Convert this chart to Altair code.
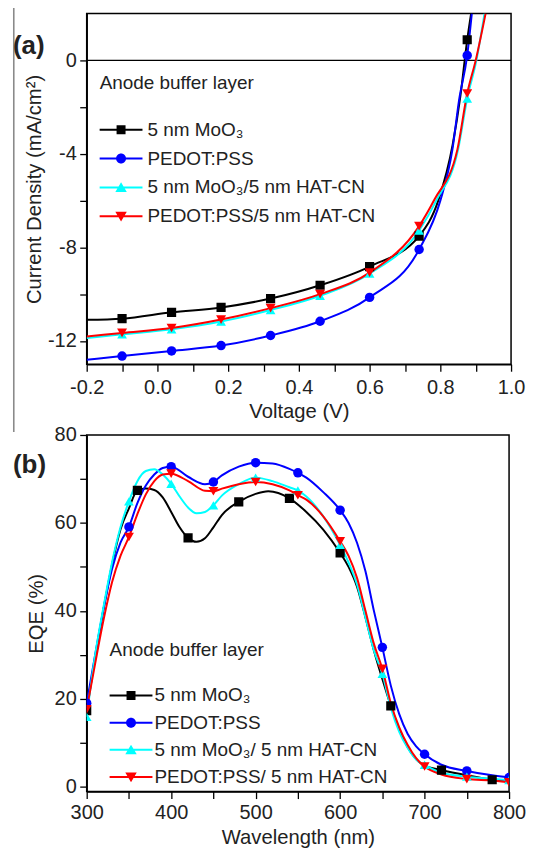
import altair as alt
import pandas as pd

FONT = "Liberation Sans"
TXT = "#222222"

colors = ["#000000", "#0000FF", "#00FFFF", "#FF0000"]
shapes = ["square", "circle", "triangle-up", "triangle-down"]
sizes = [85, 100, 130, 130]

# ---------------- Panel (a): J-V curves ----------------
jv_names = ["5 nm MoO₃", "PEDOT:PSS", "5 nm MoO₃/5 nm HAT-CN", "PEDOT:PSS/5 nm HAT-CN"]

jv_line_v = [
    [-0.2, -0.1, 0.04, 0.18, 0.32, 0.46, 0.60, 0.74, 0.795, 0.835, 0.857, 0.876, 0.887],
    [-0.2, -0.1, 0.04, 0.18, 0.32, 0.46, 0.60, 0.74, 0.80, 0.834, 0.853, 0.876, 0.889],
    [-0.2, -0.1, 0.04, 0.18, 0.32, 0.46, 0.60, 0.74, 0.79, 0.85, 0.876, 0.902, 0.925],
    [-0.2, -0.1, 0.04, 0.18, 0.32, 0.46, 0.60, 0.74, 0.783, 0.848, 0.876, 0.90, 0.928],
]
jv_line_j = [
    [-11.10, -11.05, -10.78, -10.57, -10.19, -9.62, -8.82, -7.52, -5.96, -3.6, -1.5, 0.88, 2.0],
    [-12.81, -12.65, -12.43, -12.20, -11.77, -11.16, -10.14, -8.09, -6.0, -3.83, -1.70, 0.21, 2.0],
    [-11.88, -11.72, -11.50, -11.17, -10.68, -10.07, -9.12, -7.28, -5.96, -3.83, -1.63, 0.0, 2.0],
    [-11.81, -11.66, -11.45, -11.09, -10.60, -10.00, -9.08, -7.09, -5.96, -3.83, -1.42, 0.0, 2.0],
]
jv_mark_v = [-0.1, 0.04, 0.18, 0.32, 0.46, 0.60, 0.74, 0.876]
jv_mark_j = [
    [-11.05, -10.78, -10.57, -10.19, -9.62, -8.82, -7.52, 0.88],
    [-12.65, -12.43, -12.20, -11.77, -11.16, -10.14, -8.09, 0.21],
    [-11.72, -11.50, -11.17, -10.68, -10.07, -9.12, -7.28, -1.63],
    [-11.66, -11.45, -11.09, -10.60, -10.00, -9.08, -7.09, -1.42],
]

# ---------------- Panel (b): EQE ----------------
eqe_names = ["5 nm MoO₃", "PEDOT:PSS", "5 nm MoO₃/ 5 nm HAT-CN", "PEDOT:PSS/ 5 nm HAT-CN"]

eqe_line_wl = [
    [300, 310, 320, 330, 340, 350, 360, 370, 380, 390, 400, 410, 420, 430, 440, 450, 460, 480, 500, 515,
     540, 560, 580, 600, 610, 620, 630, 640, 650, 660, 670, 680, 690, 700, 720, 750, 780, 800],
    [300, 310, 320, 330, 340, 350, 360, 370, 380, 390, 400, 420, 440, 450, 460, 480, 500, 520, 540, 550,
     560, 580, 600, 610, 620, 630, 640, 650, 660, 670, 680, 690, 700, 720, 750, 780, 800],
    [300, 310, 320, 330, 340, 350, 360, 370, 380, 390, 400, 410, 420, 430, 440, 450, 460, 480, 500, 520,
     540, 550, 560, 580, 600, 610, 620, 630, 640, 650, 660, 670, 680, 690, 700, 720, 750, 780, 800],
    [300, 310, 320, 330, 340, 350, 360, 370, 380, 390, 400, 420, 440, 450, 460, 480, 500, 520, 540, 550,
     560, 580, 600, 610, 620, 630, 640, 650, 660, 670, 680, 690, 700, 720, 750, 780, 800],
]
eqe_line_val = [
    [17.3, 29.5, 40.5, 50.5, 58.5, 63.3, 67.4, 67.8, 67.5, 65.8, 62.5, 59.0, 56.6, 55.7, 56.5, 59.0, 61.8, 64.8, 66.6, 67.2,
     65.6, 62.5, 58.5, 53.2, 50.0, 45.5, 38.5, 31.0, 24.5, 18.4, 13.0, 9.0, 6.3, 4.8, 3.8, 2.6, 1.6, 1.2],
    [19.0, 30.0, 40.5, 49.5, 55.5, 59.1, 64.5, 68.5, 71.0, 72.5, 72.8, 70.5, 68.8, 69.3, 70.8, 72.8, 73.7, 73.5, 72.3, 71.4,
     70.3, 67.0, 62.9, 60.0, 55.5, 49.0, 40.0, 31.7, 23.0, 16.5, 12.0, 9.2, 7.4, 5.0, 3.6, 2.6, 2.1],
    [15.9, 30.0, 41.0, 51.0, 59.0, 64.9, 69.5, 71.8, 72.2, 71.0, 68.9, 66.0, 63.5, 62.2, 62.5, 64.0, 66.2, 68.8, 70.3, 69.5,
     68.1, 67.4, 66.0, 61.5, 55.0, 51.0, 46.0, 38.5, 31.0, 25.7, 18.0, 12.5, 8.8, 6.2, 5.0, 3.2, 2.3, 1.8, 1.5],
    [17.6, 28.0, 38.0, 46.5, 52.5, 56.8, 62.0, 66.5, 69.5, 71.0, 71.2, 69.5, 67.3, 67.2, 67.8, 68.8, 69.3, 68.8, 67.4, 66.3,
     65.3, 61.5, 55.8, 52.5, 47.5, 40.0, 32.5, 26.8, 19.0, 13.5, 9.5, 6.5, 4.6, 2.8, 1.75, 1.4, 1.0],
]
eqe_mark_wl = [
    [300, 360, 420, 480, 540, 600, 660, 720, 780],
    [300, 350, 400, 450, 500, 550, 600, 650, 700, 750, 800],
    [300, 350, 400, 450, 500, 550, 600, 650, 700, 750, 800],
    [300, 350, 400, 450, 500, 550, 600, 650, 700, 750, 800],
]
eqe_mark_val = [
    [17.3, 67.4, 56.6, 64.8, 65.6, 53.2, 18.4, 3.8, 1.6],
    [19.0, 59.1, 72.8, 69.3, 73.7, 71.4, 62.9, 31.7, 7.4, 3.6, 2.1],
    [15.9, 64.9, 68.9, 64.0, 70.3, 67.4, 55.0, 25.7, 5.0, 2.3, 1.5],
    [17.6, 56.8, 71.2, 67.2, 69.3, 66.3, 55.8, 26.8, 4.6, 1.75, 1.0],
]


def long_df(names, xs_list, ys_list, same_x=False):
    rows = []
    for i, n in enumerate(names):
        xs = xs_list if same_x else xs_list[i]
        for x, y in zip(xs, ys_list[i]):
            rows.append({"series": n, "order": i, "x": x, "y": y})
    return pd.DataFrame(rows)


# legend symbols: a short line with the marker in its middle
LINE = "M-4.3,-0.2H4.3V0.2H-4.3Z"
legend_paths = [
    LINE + "M-0.9,-0.9H0.9V0.9H-0.9Z",
    LINE + "M-1,0A1,1 0 1,1 1,0A1,1 0 1,1 -1,0Z",
    LINE + "M0,-1.05L1.15,0.9L-1.15,0.9Z",
    LINE + "M-1.15,-0.9L1.15,-0.9L0,1.05Z",
]


def axis(values, expr, title, label_pad, title_pad):
    return alt.Axis(
        values=values, labelExpr=expr, title=title, grid=False,
        tickSize=7, tickWidth=1.3, tickColor="black",
        domainColor="black", domainWidth=1.5,
        labelFont=FONT, labelFontSize=20, labelColor=TXT, labelPadding=label_pad,
        labelOverlap=False, labelFlush=False,
        titleFont=FONT, titleFontSize=20.3, titleFontWeight="normal", titleColor=TXT,
        titlePadding=title_pad,
    )


def panel(names, line_df, mark_df, xscale, yscale, xaxis, yaxis, w, h, leg_cfg, tag, tag_y, first):
    cscale = alt.Scale(domain=names, range=colors)
    x = alt.X("x:Q", scale=xscale, axis=xaxis)
    y = alt.Y("y:Q", scale=yscale, axis=yaxis)

    lines = alt.Chart(line_df).mark_line(strokeWidth=2, interpolate="monotone", clip=True).encode(
        x=x, y=y,
        color=alt.Color("series:N", scale=cscale, legend=None),
        order=alt.Order("order:Q"),
    )
    points = alt.Chart(mark_df).mark_point(filled=True, opacity=1, strokeWidth=0, clip=True).encode(
        x=x, y=y,
        color=alt.Color("series:N", scale=cscale, legend=None),
        shape=alt.Shape("series:N", scale=alt.Scale(domain=names, range=shapes), legend=None),
        size=alt.Size("series:N", scale=alt.Scale(domain=names, range=sizes), legend=None),
    )
    lx, ly, tpad, rpad, soff, loff = leg_cfg
    leg = alt.Legend(
        title="Anode buffer layer", orient="none", legendX=lx, legendY=ly,
        titleFont=FONT, titleFontSize=19, titleFontWeight="normal", titleColor=TXT,
        titlePadding=tpad, titleAnchor="start",
        labelFont=FONT, labelFontSize=19, labelColor=TXT, labelOffset=loff,
        rowPadding=rpad, symbolOffset=soff, symbolSize=100, symbolStrokeWidth=0,
        symbolOpacity=1, padding=0, labelLimit=400,
    )
    legend_layer = alt.Chart(mark_df).transform_filter("datum.y > 1000").mark_point(filled=True).encode(
        x=x, y=y,
        color=alt.Color("series:N", scale=cscale, legend=leg),
        shape=alt.Shape("series:N", scale=alt.Scale(domain=names, range=legend_paths), legend=leg),
    )
    tag_layer = alt.Chart(pd.DataFrame({"t": [tag]})).mark_text(
        font=FONT, fontSize=26, fontWeight="bold", color=TXT, align="left", baseline="middle"
    ).encode(text="t:N", x=alt.value(-74), y=alt.value(tag_y))

    layers = [lines, points, legend_layer, tag_layer]
    if first:
        zl = alt.Chart(pd.DataFrame({"z": [0]})).mark_rule(color="black", strokeWidth=1.3).encode(
            y=alt.Y("z:Q", scale=yscale, axis=yaxis)
        )
        # thin grey frame line on the far left of the original figure
        edge = alt.Chart(pd.DataFrame({"z": [0]})).mark_rule(color="#8a8a8a", strokeWidth=1.6).encode(
            x=alt.value(-73.2), y=alt.value(-13), y2=alt.value(420)
        )
        layers = [edge, zl] + layers
    return alt.layer(*layers).resolve_scale(
        color="independent", shape="independent", size="independent"
    ).properties(width=w, height=h)


jv_line_df = long_df(jv_names, jv_line_v, jv_line_j)
jv_mark_df = long_df(jv_names, jv_mark_v, jv_mark_j, same_x=True)
eqe_line_df = long_df(eqe_names, eqe_line_wl, eqe_line_val)
eqe_mark_df = long_df(eqe_names, eqe_mark_wl, eqe_mark_val)

ax_a_x = axis([-0.2, -0.1, 0.0, 0.1, 0.2, 0.3, 0.4, 0.5, 0.6, 0.7, 0.8, 0.9, 1.0],
              "abs(round(datum.value*10)) % 2 == 0 ? replace(format(datum.value, '.1f'), '\u2212', '-') : ''",
              "Voltage (V)", 6.5, 4)
ax_a_y = axis([-12, -10, -8, -6, -4, -2, 0],
              "datum.value % 4 == 0 ? '' + datum.value : ''",
              "Current Density (mA/cm²)", 3.5, 3)
ax_b_x = axis([300, 350, 400, 450, 500, 550, 600, 650, 700, 750, 800],
              "datum.value % 100 == 0 ? '' + datum.value : ''",
              "Wavelength (nm)", 4.5, 5)
ax_b_y = axis([0, 10, 20, 30, 40, 50, 60, 70, 80],
              "datum.value % 20 == 0 ? '' + datum.value : ''",
              "EQE (%)", 3.5, 8)

panel_a = panel(jv_names, jv_line_df, jv_mark_df,
                alt.Scale(domain=[-0.2, 1.0], nice=False, zero=False),
                alt.Scale(domain=[-13, 2], nice=False, zero=False),
                ax_a_x, ax_a_y, 426, 352, (13, 61, 27, 9, 12, 17), "(a)", 33, True)
panel_b = panel(eqe_names, eqe_line_df, eqe_mark_df,
                alt.Scale(domain=[300, 800], nice=False, zero=False),
                alt.Scale(domain=[-1.1, 80], nice=False, zero=False),
                ax_b_x, ax_b_y, 424, 358, (23, 207, 26, 7.3, 12, 14), "(b)", 30, False)

chart = alt.vconcat(panel_a, panel_b, spacing=71, bounds="flush").resolve_scale(
    color="independent", shape="independent", size="independent"
).resolve_legend(color="independent", shape="independent", size="independent").properties(
    padding={"left": 4, "top": -11, "right": -1, "bottom": -3}
).configure_view(stroke="black", strokeWidth=1.5)

chart.save("out.html", embed_options={"renderer": "svg", "actions": False})
